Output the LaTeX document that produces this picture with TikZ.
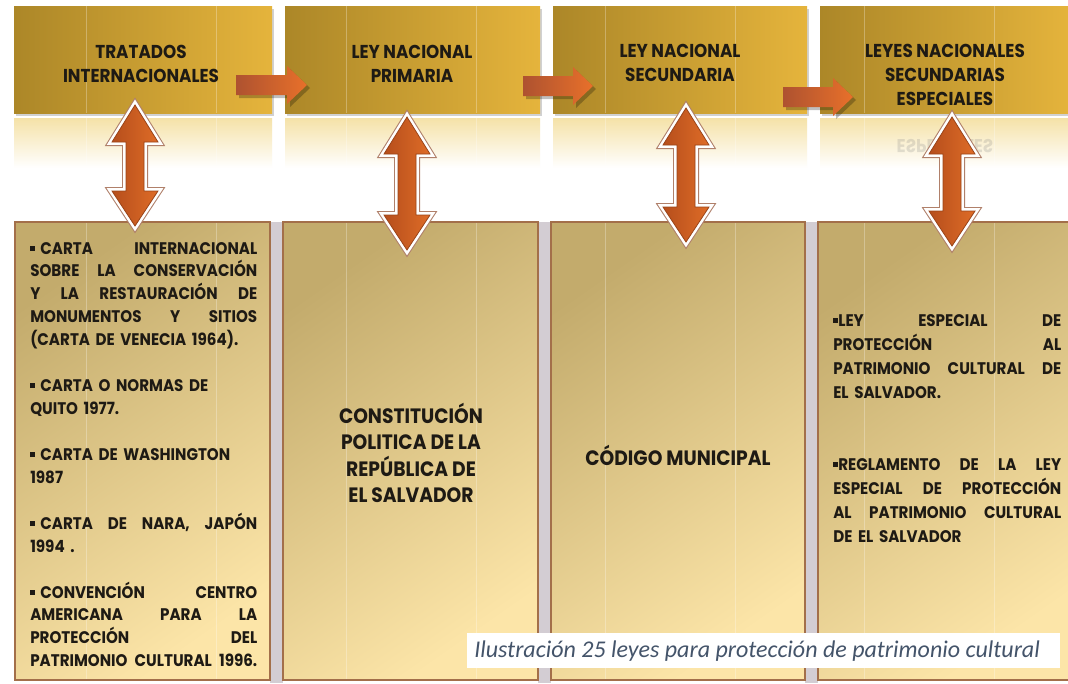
\documentclass[tikz,border=0pt]{standalone}
\usepackage{fontspec}
\usepackage{graphicx}
\setmainfont{Poppins}[FakeStretch=0.9]
\newfontfamily\capfont{Carlito}

\definecolor{hdL}{HTML}{AC8728}
\definecolor{hdR}{HTML}{E5B43C}
\definecolor{bxA}{HTML}{C3AB6C}
\definecolor{bxB}{HTML}{FCE5A8}
\definecolor{bxLine}{HTML}{A36F4A}
\definecolor{gapGray}{HTML}{D3CDD3}
\definecolor{arL}{HTML}{AE5230}
\definecolor{arR}{HTML}{E8702A}
\definecolor{vaA}{HTML}{B64E1C}
\definecolor{vaB}{HTML}{DE6C27}
\definecolor{vaEdge}{HTML}{B0806A}
\definecolor{vaDark}{HTML}{9A4418}
\definecolor{reflTop}{HTML}{F5E2A8}
\definecolor{capBlue}{HTML}{44546A}
\definecolor{txt}{HTML}{1E1A14}

\newcommand{\jl}[1]{\hbox to \hsize{\spaceskip=0.27em plus 1fil minus 0.12em\relax #1}}
\newcommand{\bul}{\raisebox{0.2em}{\rule{0.3em}{0.3em}}}
\newcommand{\bsp}{\bul\kern0.3em}

\tikzset{
  hdbox/.style={left color=hdL, right color=hdR},
  reflbox/.style={top color=reflTop, bottom color=white},
  lowbox/.style={top color=bxA, bottom color=bxB, shading angle=35, draw=bxLine, line width=1pt},
  texture/.style={white, opacity=0.28, line width=0.7pt},
  hdtext/.style={align=center, text=txt, font=\bfseries\fontsize{14}{17.8}\selectfont, inner sep=0pt},
  bigtext/.style={align=center, text=txt, font=\bfseries\fontsize{15.6}{19.7}\selectfont, inner sep=0pt},
  listtext/.style={text=txt, font=\bfseries\fontsize{12.6}{17.2}\selectfont, inner sep=0pt},
  harrow/.style={left color=arL, right color=arR},
  dblarrow/.style={preaction={draw=vaEdge, line width=6pt, line join=miter},
                   preaction={draw=white, line width=4.4pt, line join=miter},
                   left color=vaA, right color=vaB, draw=vaDark, line width=0.6pt, line join=miter},
  ghost/.style={text=gray, opacity=0.22, font=\bfseries\fontsize{14}{17}\selectfont, inner sep=0pt},
  captext/.style={text=capBlue, font=\capfont\itshape\fontsize{18}{21}\selectfont, inner sep=0pt}
}

\begin{document}
\begin{tikzpicture}[x=0.75pt,y=-0.75pt]
\useasboundingbox (0,0) rectangle (1068,683);
\fill[white] (0,0) rectangle (1068,683);

% gaps between lower boxes
\foreach \a/\b in {270/283, 538/551, 805/818}
  \fill[gapGray] (\a,222) rectangle (\b,683);

% header boxes, shadows, reflections
\foreach \a/\b in {14/272, 285/540, 553/807, 820/1072} {
  \fill[black, opacity=0.18] (\a+2,9) rectangle (\b+2,116);
  \path[hdbox] (\a,6) rectangle (\b,113);
  \path[reflbox] (\a,118) rectangle (\b,168);
}

% lower boxes
\foreach \a/\b in {15/270, 283/538, 551/805, 818/1074}
  \path[lowbox] (\a,222) rectangle (\b,680);

% faint texture lines
\foreach \x in {86,216,346,476,605,735,864,994} {
  \draw[texture] (\x,6) -- (\x,113);
  \draw[texture] (\x,118) -- (\x,165);
  \draw[texture] (\x,223) -- (\x,679);
}

% header texts
\node[hdtext] (h1) at (141,64) {TRATADOS\\INTERNACIONALES};
\node[hdtext] (h2) at (412,64) {LEY NACIONAL\\PRIMARIA};
\node[hdtext] (h3) at (680,63) {LEY NACIONAL\\SECUNDARIA};
\node[hdtext] (h4) at (945,75) {LEYES NACIONALES\\SECUNDARIAS\\ESPECIALES};

% mirrored ghost text in the reflection
\node[ghost] (g4) at (945,146) {\scalebox{1}[-1]{ESPECIALES}};

% horizontal block arrows
\foreach \xa/\xh/\xt/\yc in {236/287/307/85, 523/573/593/86, 783/833/853/97} {
  \fill[black, opacity=0.25] (\xa+3,\yc-7) -- (\xh+3,\yc-7) -- (\xh+3,\yc-16) -- (\xt+3,\yc+3) -- (\xh+3,\yc+22) -- (\xh+3,\yc+13) -- (\xa+3,\yc+13) -- cycle;
  \path[harrow] (\xa,\yc-10) -- (\xh,\yc-10) -- (\xh,\yc-19) -- (\xt,\yc) -- (\xh,\yc+19) -- (\xh,\yc+10) -- (\xa,\yc+10) -- cycle;
}

% vertical double arrows
\foreach \c/\t/\b in {135/105/226, 407/117/250, 686/108/242, 952/117/246} {
  \path[dblarrow] (\c,\t) -- (\c+23,\t+37) -- (\c+9,\t+37) -- (\c+9,\b-35) -- (\c+23,\b-35)
     -- (\c,\b) -- (\c-23,\b-35) -- (\c-9,\b-35) -- (\c-9,\t+37) -- (\c-23,\t+37) -- cycle;
}

% lower box texts
\node[listtext, text width=170.25pt, anchor=base west] (l1) at (30,254) {%
\jl{\bsp CARTA INTERNACIONAL}
\jl{SOBRE LA CONSERVACIÓN}
\jl{Y LA RESTAURACIÓN DE}
\jl{MONUMENTOS Y SITIOS}
\hbox{(CARTA DE VENECIA 1964).}
\vskip 17.2pt
\hbox{\bsp CARTA O NORMAS DE}
\hbox{QUITO 1977.}
\vskip 17.2pt
\hbox{\bsp CARTA DE WASHINGTON}
\hbox{1987}
\vskip 17.2pt
\jl{\bsp CARTA DE NARA, JAPÓN}
\hbox{1994 .}
\vskip 17.2pt
\jl{\bsp CONVENCIÓN CENTRO}
\jl{AMERICANA PARA LA}
\jl{PROTECCIÓN DEL}
\jl{PATRIMONIO CULTURAL 1996.}};

\node[bigtext] (l2) at (411,453) {CONSTITUCIÓN\\POLITICA DE LA\\REPÚBLICA DE\\EL SALVADOR};
\node[bigtext] (l3) at (678,455) {CÓDIGO MUNICIPAL};

\node[listtext, text width=171pt, anchor=base west, font=\bfseries\fontsize{12.6}{18}\selectfont] (l4) at (833,326) {%
\jl{\bul LEY ESPECIAL DE}
\jl{PROTECCIÓN AL}
\jl{PATRIMONIO CULTURAL DE}
\hbox{EL SALVADOR.}
\vskip 36pt
\jl{\bul REGLAMENTO DE LA LEY}
\jl{ESPECIAL DE PROTECCIÓN}
\jl{AL PATRIMONIO CULTURAL}
\hbox{DE EL SALVADOR}};

% caption
\fill[white] (467,633) rectangle (1060,668);
\node[captext, anchor=west] (cap) at (474,651) {Ilustración 25 leyes para protección de patrimonio cultural};
\end{tikzpicture}
\end{document}
